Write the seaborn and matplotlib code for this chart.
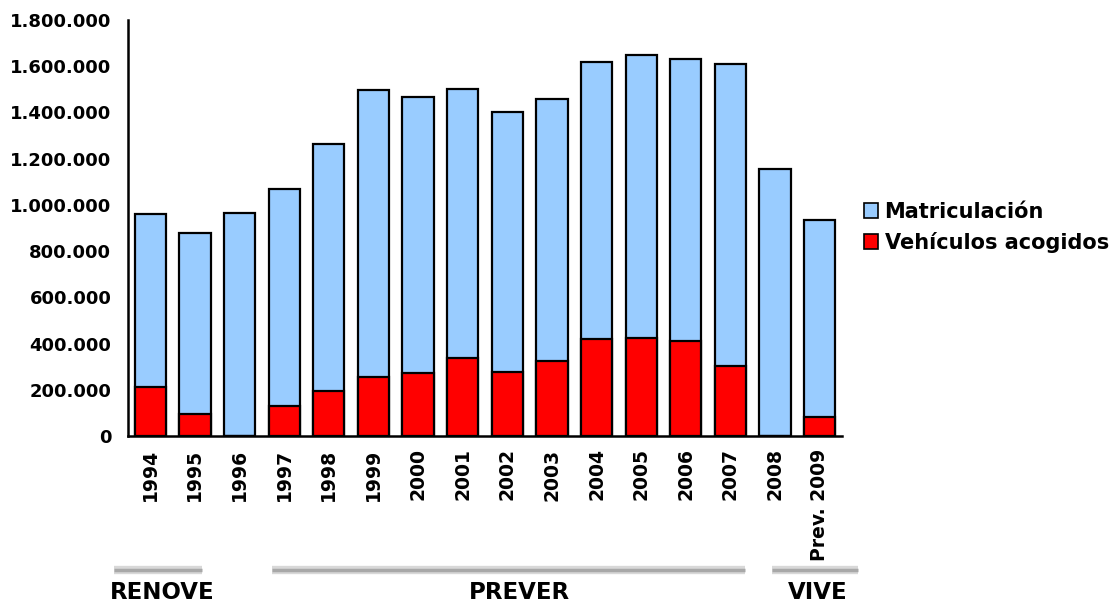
import matplotlib
matplotlib.use("Agg")
import matplotlib.pyplot as plt
import matplotlib.transforms as mtransforms
from matplotlib.patches import Patch
from matplotlib.ticker import FuncFormatter, FixedLocator
import seaborn as sns
import pandas as pd

years = ['1994', '1995', '1996', '1997', '1998', '1999', '2000', '2001',
         '2002', '2003', '2004', '2005', '2006', '2007', '2008', 'Prev. 2009']
matriculacion = [960000, 878000, 965000, 1068000, 1264000, 1496000, 1467000, 1500000,
                 1401000, 1459000, 1619000, 1648000, 1630000, 1609000, 1155000, 935000]
acogidos = [213000, 97000, 0, 130000, 196000, 255000, 271000, 338000,
            277000, 326000, 419000, 425000, 409000, 304000, 0, 80000]

planes = ['RENOVE', 'PREVER', 'VIVE']
plan_first = [0, 3, 14]
plan_last = [1, 13, 15]

df = pd.DataFrame({'year': years, 'matric': matriculacion, 'acog': acogidos})

sns.set_style('white')
plt.rcParams['font.family'] = ['DejaVu Sans']
plt.rcParams['font.weight'] = 'bold'
plt.rcParams['text.color'] = 'black'
plt.rcParams['xtick.color'] = 'black'
plt.rcParams['ytick.color'] = 'black'

blue = '#99CCFF'
red = '#FF0000'

fig = plt.figure(figsize=(11.13, 6.03), dpi=100)
ax = fig.add_axes([0.115, 0.277, 0.6415, 0.690])

sns.barplot(data=df, x='year', y='matric', order=years, color=blue, width=0.7,
            edgecolor='black', linewidth=1.6, saturation=1, ax=ax)
sns.barplot(data=df, x='year', y='acog', order=years, color=red, width=0.7,
            edgecolor='black', linewidth=1.6, saturation=1, ax=ax)

ax.set_xlim(-0.5, len(years) - 0.5)
ax.set_ylim(0, 1800000)
ax.set_yticks(range(0, 1800001, 200000))
ax.yaxis.set_major_formatter(FuncFormatter(lambda v, p: f"{int(v):,}".replace(',', '.')))
ax.set_xlabel('')
ax.set_ylabel('')

for s in ['top', 'right']:
    ax.spines[s].set_visible(False)
for s in ['left', 'bottom']:
    ax.spines[s].set_color('black')
    ax.spines[s].set_linewidth(1.8)

ax.tick_params(axis='y', direction='out', length=6, width=1.5, colors='black',
               labelsize=13, pad=6)
ax.tick_params(axis='x', which='major', length=0, labelsize=13.5, pad=9, labelrotation=90,
               labelcolor='black')
ax.xaxis.set_minor_locator(FixedLocator([i - 0.5 for i in range(len(years) + 1)]))
ax.tick_params(axis='x', which='minor', direction='out', length=6, width=1.5, color='black')
for lab in ax.get_xticklabels() + ax.get_yticklabels():
    lab.set_fontweight('bold')

handles = [Patch(facecolor=blue, edgecolor='black', linewidth=1.2, label='Matriculación'),
           Patch(facecolor=red, edgecolor='black', linewidth=1.2, label='Vehículos acogidos')]
fig.legend(handles=handles, loc='center left', bbox_to_anchor=(0.776, 0.623),
           frameon=False, borderpad=0, borderaxespad=0, handlelength=0.7, handleheight=0.7,
           handletextpad=0.3, labelspacing=0.5, labelcolor='black',
           prop={'size': 15, 'weight': 'bold'})

# program bands under the axis
trans = mtransforms.blended_transform_factory(ax.transData, fig.transFigure)
offsets = [(-0.81, 0.16), (-0.27, 0.33), (-0.07, 0.86)]
label_shift = [0.1, 0.24, 0.05]
for name, a, b, (o1, o2), sh in zip(planes, plan_first, plan_last, offsets, label_shift):
    x0, x1 = a + o1, b + o2
    ax.plot([x0, x1], [0.054, 0.054], transform=trans, color='#d8d8d8', lw=6,
            solid_capstyle='butt', clip_on=False)
    ax.plot([x0, x1], [0.054, 0.054], transform=trans, color='#a8a8a8', lw=2.5,
            solid_capstyle='butt', clip_on=False)
    ax.text((x0 + x1) / 2 + sh, 0.006, name, transform=trans, ha='center', va='baseline',
            fontsize=16.5, fontweight='bold', color='black', clip_on=False)

fig.savefig('out.png', dpi=100)
